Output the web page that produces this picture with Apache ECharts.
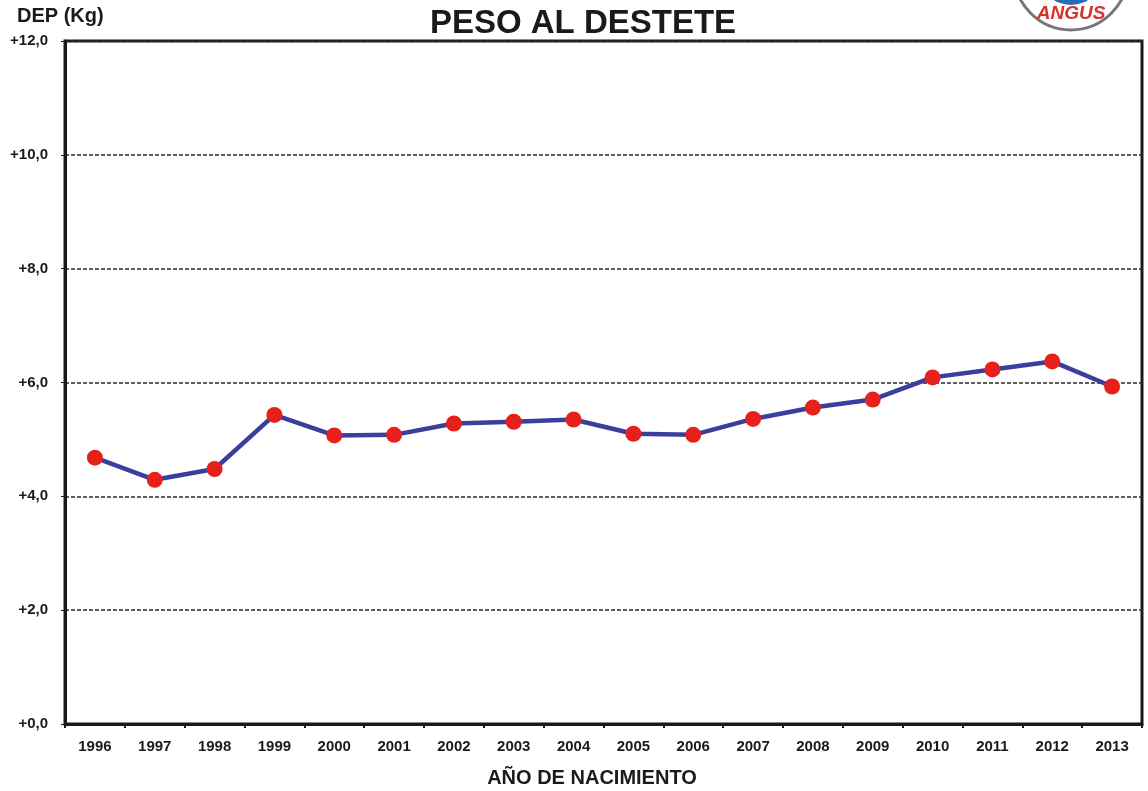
<!DOCTYPE html>
<html>
<head>
<meta charset="utf-8">
<script src="https://cdn.jsdelivr.net/npm/echarts@6/dist/echarts.min.js"></script>
<style>
  html, body { margin: 0; padding: 0; background: #fff; }
  #chart { width: 1148px; height: 791px; }
</style>
</head>
<body>
<div id="chart"></div>
<script>
// años de nacimiento
const years = ["1996", "1997", "1998", "1999", "2000", "2001", "2002", "2003", "2004",
  "2005", "2006", "2007", "2008", "2009", "2010", "2011", "2012", "2013"];
// DEP peso al destete (Kg)
const depValues = [4.68, 4.29, 4.48, 5.43, 5.07, 5.08, 5.28, 5.31, 5.35,
  5.10, 5.08, 5.36, 5.56, 5.70, 6.09, 6.23, 6.37, 5.93];

const chart = echarts.init(document.getElementById("chart"));

const fmt = v => "+" + v.toFixed(1).replace(".", ",");
const font = "Liberation Sans, Arial, sans-serif";

chart.setOption({
  backgroundColor: "#fff",
  textStyle: { fontFamily: font },
  title: {
    text: "PESO AL DESTETE",
    left: 578,
    top: 2,
    textAlign: "center",
    textStyle: { fontSize: 33, fontWeight: "bold", color: "#1a1a1a" }
  },
  grid: {
    left: 65,
    right: 6,
    top: 41,
    bottom: 67,
    show: true,
    borderColor: "#1a1a1a",
    borderWidth: 3
  },
  graphic: [
    {
      type: "text",
      left: 17,
      top: 6,
      style: { text: "DEP (Kg)", fontSize: 20, fontWeight: "bold", fill: "#1a1a1a", fontFamily: font }
    },
    {
      type: "text",
      x: 592,
      y: 778,
      style: { text: "AÑO DE NACIMIENTO", fontSize: 20, fontWeight: "bold", fill: "#1a1a1a",
        align: "center", verticalAlign: "middle", fontFamily: font }
    },
    {
      type: "group",
      children: [
        { type: "circle", shape: { cx: 1071, cy: -27, r: 57 },
          style: { fill: "#fff", stroke: "#777", lineWidth: 3 } },
        { type: "circle", shape: { cx: 1071, cy: -27, r: 32 },
          style: { fill: "#2a6db5" } },
        { type: "text", x: 1071, y: 14,
          style: { text: "ANGUS", fontSize: 19, fontWeight: "bold", fontStyle: "italic",
            fill: "#d6322a", align: "center", verticalAlign: "middle", fontFamily: font } }
      ]
    }
  ],
  xAxis: {
    type: "category",
    data: years,
    boundaryGap: true,
    axisLine: { lineStyle: { color: "#1a1a1a", width: 3 } },
    axisTick: { show: true, length: 4, lineStyle: { color: "#1a1a1a", width: 2 } },
    axisLabel: { fontSize: 15, fontWeight: "bold", color: "#1a1a1a", margin: 15 },
    splitLine: { show: false }
  },
  yAxis: {
    type: "value",
    min: 0,
    max: 12,
    interval: 2,
    axisLine: { show: true, lineStyle: { color: "#1a1a1a", width: 3 } },
    axisTick: { show: true, length: 4, lineStyle: { color: "#1a1a1a", width: 1 } },
    axisLabel: { fontSize: 15, fontWeight: "bold", color: "#1a1a1a", margin: 17, formatter: fmt },
    splitLine: { show: true, lineStyle: { color: "#2a2a2a", type: [4, 2], width: 1.5 } }
  },
  series: [
    {
      type: "line",
      data: depValues,
      symbol: "circle",
      symbolSize: 16,
      lineStyle: { color: "#3a3f9e", width: 4.5 },
      itemStyle: { color: "#e8201c", borderWidth: 0 },
      z: 5
    }
  ],
  animation: false
});
</script>
</body>
</html>
